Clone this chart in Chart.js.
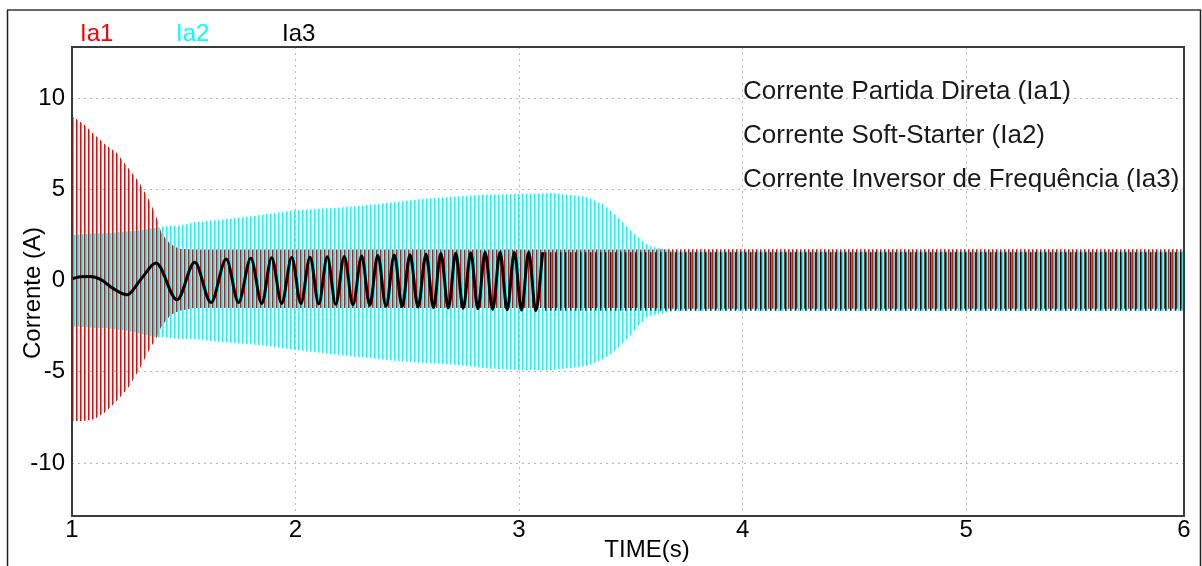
<!DOCTYPE html>
<html>
<head>
<meta charset="utf-8">
<script src="https://cdn.jsdelivr.net/npm/chart.js@4.4.0/dist/chart.umd.min.js"></script>
<style>
    body { margin: 0; background: #fff; }
    canvas { display: block; }
</style>
</head>
<body>
<canvas id="grafico" width="1202" height="566"></canvas>
<script>
// envolventes (A), nos instantes de tempoEnv (s)
const tempoEnv = [1.00, 1.05, 1.10, 1.15, 1.20, 1.25, 1.30, 1.35, 1.38, 1.40, 1.44, 1.48,
    1.55, 1.65, 1.75, 1.85, 2.00, 2.25, 2.45, 2.55, 2.70, 2.85, 3.00, 3.15,
    3.30, 3.38, 3.44, 3.50, 3.54, 3.58, 3.70, 4.00, 4.50, 5.00, 5.50, 5.975];

const ia1Sup = [9.0, 8.6, 8.0, 7.45, 7.0, 6.2, 5.4, 4.3, 3.4, 2.6, 2.0, 1.75,
    1.7, 1.7, 1.7, 1.7, 1.7, 1.7, 1.7, 1.7, 1.7, 1.7, 1.7, 1.7,
    1.7, 1.7, 1.7, 1.7, 1.7, 1.7, 1.72, 1.72, 1.72, 1.72, 1.72, 1.72];
const ia1Inf = [-7.7, -7.7, -7.6, -7.2, -6.6, -5.9, -4.9, -3.7, -3.1, -2.5, -1.9, -1.65,
    -1.5, -1.5, -1.5, -1.5, -1.5, -1.5, -1.5, -1.5, -1.5, -1.5, -1.5, -1.5,
    -1.5, -1.5, -1.5, -1.5, -1.5, -1.5, -1.55, -1.55, -1.55, -1.55, -1.55, -1.55];

const ia2Sup = [2.5, 2.55, 2.6, 2.6, 2.65, 2.7, 2.75, 2.85, 2.9, 2.95, 3.0, 3.0,
    3.2, 3.3, 3.45, 3.6, 3.85, 4.05, 4.3, 4.45, 4.6, 4.7, 4.75, 4.8,
    4.6, 4.15, 3.5, 2.75, 2.3, 1.9, 1.6, 1.6, 1.6, 1.6, 1.6, 1.6];
const ia2Inf = [-2.5, -2.55, -2.6, -2.6, -2.7, -2.75, -2.9, -3.05, -3.1, -3.1, -3.15, -3.2,
    -3.2, -3.35, -3.45, -3.55, -3.8, -4.15, -4.4, -4.5, -4.6, -4.8, -4.9, -4.9,
    -4.7, -4.3, -3.75, -3.0, -2.4, -1.95, -1.65, -1.65, -1.65, -1.65, -1.65, -1.65];

// Ia3: picos visiveis da senoide ate ~3.1 s, depois faixa densa
const ia3Tempo = [1.000, 1.030, 1.080, 1.130, 1.180, 1.246, 1.310, 1.376, 1.470, 1.549,
    1.622, 1.690, 1.745, 1.800, 1.849, 1.893, 1.938, 1.983, 2.024, 2.065,
    2.104, 2.142, 2.180, 2.218, 2.257, 2.296, 2.332, 2.368, 2.405, 2.442,
    2.477, 2.512, 2.548, 2.584, 2.617, 2.650, 2.684, 2.717, 2.750, 2.784,
    2.816, 2.848, 2.882, 2.915, 2.947, 2.979, 3.011, 3.043, 3.075, 3.106];
const ia3Valor = [0.10, 0.20, 0.22, 0.05, -0.40, -0.78, 0.10, 0.96, -1.05, 1.01,
    -1.20, 1.18, -1.20, 1.23, -1.25, 1.25, -1.25, 1.26, -1.25, 1.28,
    -1.28, 1.30, -1.30, 1.32, -1.32, 1.35, -1.35, 1.38, -1.40, 1.40,
    -1.42, 1.42, -1.45, 1.45, -1.48, 1.48, -1.50, 1.50, -1.52, 1.52,
    -1.55, 1.55, -1.58, 1.55, -1.60, 1.55, -1.62, 1.55, -1.65, 1.55];
const ia3FaixaTempo = [3.106, 3.60, 4.00, 5.00, 5.975];
const ia3FaixaSup = [1.55, 1.55, 1.55, 1.55, 1.55];
const ia3FaixaInf = [-1.65, -1.65, -1.65, -1.65, -1.65];

const ticksTempo = [1, 2, 3, 4, 5, 6];
const ticksCorrente = [-10, -5, 0, 5, 10];

const legendaTopo = [['Ia1', '#ff0000'], ['Ia2', '#00ffff'], ['Ia3', '#000000']];
const legendaTextos = ['Corrente Partida Direta (Ia1)', 'Corrente Soft-Starter (Ia2)', 'Corrente Inversor de Frequência (Ia3)'];

const FONTE = "'Liberation Sans', Arial, sans-serif";

function pontos(ts, vs) {
    return ts.map((t, i) => ({ x: t, y: vs[i] }));
}

// listras verticais imitando as oscilacoes densas
function listras(cores) {
    const c = document.createElement('canvas');
    c.width = cores.length;
    c.height = 1;
    const g = c.getContext('2d');
    cores.forEach((cor, i) => {
        if (cor) {
            g.fillStyle = cor;
            g.fillRect(i, 0, 1, 1);
        }
    });
    return g.createPattern(c, 'repeat');
}

const padraoVermelho = listras(['#ff0000', 'rgba(255,0,0,0.55)', null, null]);
const padraoCiano = listras([null, null, '#00ffff', 'rgba(0,255,255,0.6)']);
const padraoPreto = listras(['rgba(0,0,0,0.85)', 'rgba(0,0,0,0.4)', null, null, null]);

const invisivel = 'rgba(0,0,0,0)';

function faixa(dados, ordem, fundo) {
    return {
        data: dados,
        borderColor: invisivel,
        borderWidth: 0,
        pointRadius: 0,
        fill: fundo ? '-1' : false,
        backgroundColor: fundo || invisivel,
        order: ordem
    };
}

const decoracao = {
    id: 'decoracao',
    beforeDraw(chart) {
        const ctx = chart.ctx;
        ctx.save();
        ctx.fillStyle = '#fff';
        ctx.fillRect(0, 0, chart.width, chart.height);
        ctx.strokeStyle = '#666';
        ctx.lineWidth = 2;
        ctx.beginPath();
        ctx.moveTo(7, 10);
        ctx.lineTo(1201, 10);
        ctx.stroke();
        ctx.strokeStyle = '#222';
        ctx.lineWidth = 1.5;
        ctx.beginPath();
        ctx.moveTo(7.5, 10);
        ctx.lineTo(7.5, chart.height);
        ctx.moveTo(1200.5, 10);
        ctx.lineTo(1200.5, chart.height);
        ctx.stroke();
        ctx.restore();
    },
    afterDatasetsDraw(chart) {
        const ctx = chart.ctx;
        const a = chart.chartArea;
        ctx.save();
        ctx.strokeStyle = '#3a3a3a';
        ctx.lineWidth = 2;
        ctx.strokeRect(a.left, a.top, a.right - a.left, a.bottom - a.top);
        ctx.restore();
    },
    afterDraw(chart) {
        const ctx = chart.ctx;
        ctx.save();
        ctx.textBaseline = 'alphabetic';
        ctx.textAlign = 'left';
        ctx.font = '24px ' + FONTE;
        const xs = [80, 176, 282];
        legendaTopo.forEach((item, i) => {
            ctx.fillStyle = item[1];
            ctx.fillText(item[0], xs[i], 41);
        });
        ctx.fillStyle = '#1a1a1a';
        ctx.font = '26px ' + FONTE;
        legendaTextos.forEach((txt, i) => {
            ctx.fillText(txt, 743, 99 + i * 44);
        });
        ctx.fillStyle = '#000';
        ctx.font = '24px ' + FONTE;
        ctx.textAlign = 'center';
        ctx.fillText('TIME(s)', 647, 557);
        ctx.translate(40, 293);
        ctx.rotate(-Math.PI / 2);
        ctx.fillText('Corrente (A)', 0, 0);
        ctx.restore();
    }
};

Chart.defaults.font.family = FONTE;
Chart.defaults.color = '#000';

new Chart(document.getElementById('grafico'), {
    type: 'line',
    data: {
        datasets: [
            faixa(pontos(tempoEnv, ia1Inf), 3, null),
            faixa(pontos(tempoEnv, ia1Sup), 3, padraoVermelho),
            faixa(pontos(tempoEnv, ia2Inf), 2, null),
            faixa(pontos(tempoEnv, ia2Sup), 2, padraoCiano),
            faixa(pontos(ia3FaixaTempo, ia3FaixaInf), 1, null),
            faixa(pontos(ia3FaixaTempo, ia3FaixaSup), 1, padraoPreto),
            {
                data: pontos(ia3Tempo, ia3Valor),
                borderColor: '#000',
                borderWidth: 3,
                pointRadius: 0,
                fill: false,
                cubicInterpolationMode: 'monotone',
                order: 0
            }
        ]
    },
    options: {
        responsive: false,
        animation: false,
        devicePixelRatio: 1,
        events: [],
        layout: { padding: { left: 0, top: 47, right: 18, bottom: 0 } },
        plugins: { legend: { display: false }, tooltip: { enabled: false } },
        scales: {
            x: {
                type: 'linear',
                min: 1,
                max: 5.975,
                afterBuildTicks: (s) => {
                    s.ticks = ticksTempo.map(v => ({ value: Math.min(v, s.max) }));
                },
                afterFit: (s) => { s.height = 50; },
                ticks: {
                    font: { size: 24 },
                    padding: 0,
                    maxRotation: 0,
                    autoSkip: false,
                    callback: (v) => Math.round(v)
                },
                grid: {
                    drawTicks: false,
                    color: (c) => (c.tick && (c.tick.value <= 1 || c.tick.value >= 5.97)) ? invisivel : '#b8b8b8'
                },
                border: { display: false, dash: [2, 4] }
            },
            y: {
                min: -12.9,
                max: 12.8,
                afterBuildTicks: (s) => {
                    s.ticks = ticksCorrente.map(v => ({ value: v }));
                },
                afterFit: (s) => { s.width = 72; },
                ticks: {
                    font: { size: 24 },
                    padding: 7
                },
                grid: {
                    drawTicks: false,
                    color: (c) => (c.tick && c.tick.value === 0) ? invisivel : '#b8b8b8'
                },
                border: { display: false, dash: [2, 4] }
            }
        }
    },
    plugins: [decoracao]
});
</script>
</body>
</html>
